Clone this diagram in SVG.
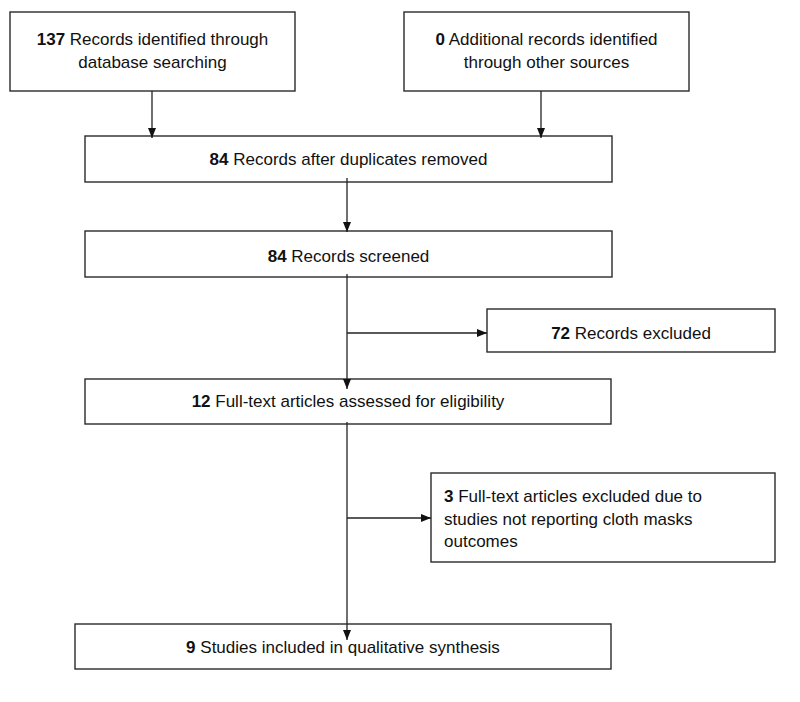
<svg xmlns="http://www.w3.org/2000/svg" width="800" height="702" viewBox="0 0 800 702">
<defs>
<style>
.box{fill:#fff;stroke:#2a2a2a;stroke-width:1.4}
.t{font-family:"Liberation Sans",Arial,sans-serif;font-size:17px;fill:#111}
.c{text-anchor:middle}
.b{font-weight:bold}
.ln{fill:none;stroke:#222;stroke-width:1.3}
</style>
<marker id="ah" markerUnits="userSpaceOnUse" markerWidth="10" markerHeight="10" viewBox="0 0 10 8" refX="10" refY="4" orient="auto">
<path d="M0,0 L10,4 L0,8 Z" fill="#111"/>
</marker>
</defs>
<rect width="800" height="702" fill="#fff"/>
<g id="n1">
<rect class="box" x="10" y="12" width="285" height="79"/>
<text class="t c" x="152.5" y="45"><tspan class="b">137</tspan> Records identified through</text>
<text class="t c" x="152.5" y="68">database searching</text>
</g>
<g id="n2">
<rect class="box" x="404" y="12" width="285" height="79"/>
<text class="t c" x="546.5" y="45"><tspan class="b">0</tspan> Additional records identified</text>
<text class="t c" x="546.5" y="68">through other sources</text>
</g>
<g id="n3">
<rect class="box" x="85" y="136" width="527" height="46"/>
<text class="t c" x="348.5" y="165"><tspan class="b">84</tspan> Records after duplicates removed</text>
</g>
<g id="n4">
<rect class="box" x="85" y="231" width="527" height="46"/>
<text class="t c" x="348.5" y="262"><tspan class="b">84</tspan> Records screened</text>
</g>
<g id="n5">
<rect class="box" x="487" y="309" width="288" height="43"/>
<text class="t c" x="631" y="339"><tspan class="b">72</tspan> Records excluded</text>
</g>
<g id="n6">
<rect class="box" x="85" y="379" width="526" height="45"/>
<text class="t c" x="348" y="407"><tspan class="b">12</tspan> Full-text articles assessed for eligibility</text>
</g>
<g id="n7">
<rect class="box" x="431" y="473" width="344" height="89"/>
<text class="t" x="444" y="502"><tspan class="b">3</tspan> Full-text articles excluded due to</text>
<text class="t" x="444" y="525">studies not reporting cloth masks</text>
<text class="t" x="444" y="547">outcomes</text>
</g>
<g id="n8">
<rect class="box" x="75" y="624" width="536" height="45"/>
<text class="t c" x="343" y="653"><tspan class="b">9</tspan> Studies included in qualitative synthesis</text>
</g>
<g id="connectors">
<path class="ln" d="M152,91 V138" marker-end="url(#ah)"/>
<path class="ln" d="M541,91 V138" marker-end="url(#ah)"/>
<path class="ln" d="M347,178 V232" marker-end="url(#ah)"/>
<path class="ln" d="M347,274 V389" marker-end="url(#ah)"/>
<path class="ln" d="M347,333 H487" marker-end="url(#ah)"/>
<path class="ln" d="M347,422 V640" marker-end="url(#ah)"/>
<path class="ln" d="M347,518 H431" stroke="#777" marker-end="url(#ah)"/>
</g>
</svg>
